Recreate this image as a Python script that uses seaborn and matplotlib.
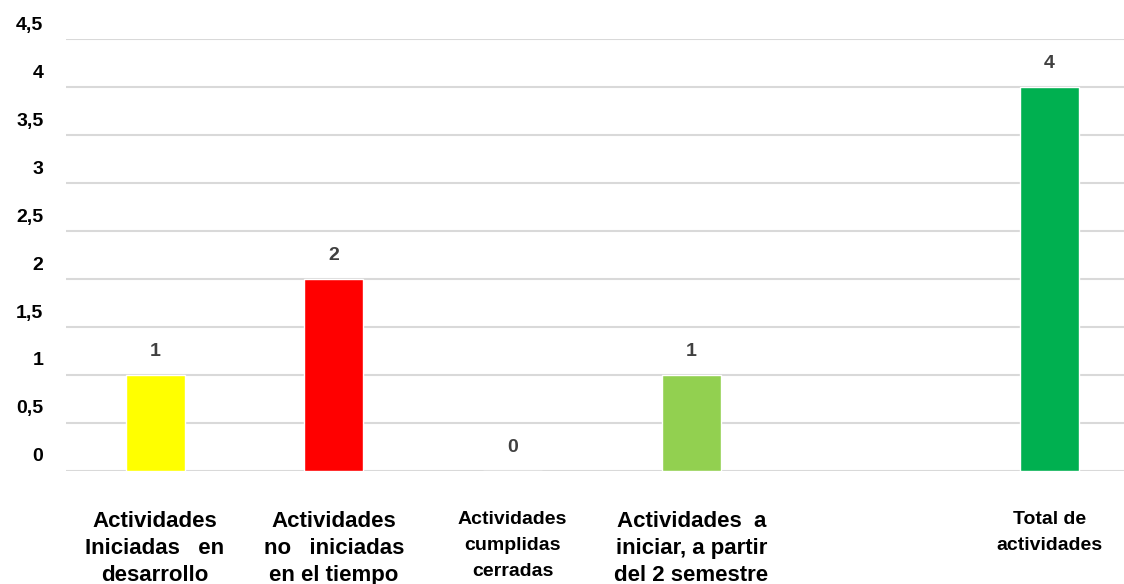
import matplotlib
matplotlib.use("Agg")
import matplotlib.pyplot as plt
import matplotlib.transforms as mtransforms
import seaborn as sns
import pandas as pd
from matplotlib import font_manager

# -----------------------------
# Data
# -----------------------------
categories = [
    "Actividades\nIniciadas   en\ndesarrollo",
    "Actividades\nno   iniciadas\nen el tiempo",
    "Actividades\ncumplidas\ncerradas",
    "Actividades  a\niniciar, a partir\ndel 2 semestre",
    "",
    "Total de\nactividades",
]
values = [1, 2, 0, 1, None, 4]
bar_colors = ["#FFFF00", "#FF0000", "#FFFFFF", "#92D050", "#FFFFFF", "#00B050"]
label_sizes = [16, 16, 14, 16, 16, 14]
y_ticks = [0, 0.5, 1, 1.5, 2, 2.5, 3, 3.5, 4, 4.5]
y_tick_labels = ["0", "0,5", "1", "1,5", "2", "2,5", "3", "3,5", "4", "4,5"]

df = pd.DataFrame({"cat": categories, "val": values})

# -----------------------------
# Theme / fonts
# -----------------------------
sns.set_theme(style="white")
names = {f.name for f in font_manager.fontManager.ttflist}
narrow = "Liberation Sans Narrow" if "Liberation Sans Narrow" in names else "Liberation Sans"
plt.rcParams["font.family"] = [narrow, "DejaVu Sans"]

fig = plt.figure(figsize=(11.24, 5.84), dpi=100)
ax = fig.add_axes([0.0584, 0.1935, 0.9545, 0.7397])

sns.barplot(
    data=df,
    x="cat",
    y="val",
    order=categories,
    hue="cat",
    hue_order=categories,
    palette=bar_colors,
    saturation=1,
    width=0.33,
    legend=False,
    ax=ax,
    zorder=3,
)

# value labels
for i, v in enumerate(values):
    if v is None:
        continue
    ax.annotate(
        f"{v:g}",
        xy=(i, v),
        xytext=(0, 17),
        textcoords="offset points",
        ha="center",
        va="center",
        fontsize=14,
        fontweight="bold",
        color="#404040",
    )

# axes styling
ax.set_ylim(0, 4.5)
ax.set_xlim(-0.5, len(categories) - 0.5)
ax.set_yticks(y_ticks)
ax.set_yticklabels(y_tick_labels, fontsize=14, fontweight="bold", color="black")
ax.yaxis.grid(True, color="#D9D9D9", linewidth=1.5, zorder=0)
ax.set_axisbelow(True)
for s in ax.spines.values():
    s.set_visible(False)
ax.set_xlabel("")
ax.set_ylabel("")
ax.tick_params(axis="y", length=0, pad=16)
ax.tick_params(axis="x", length=0, pad=29)

# y tick labels sit above their gridlines
shift = mtransforms.ScaledTranslation(0, 16 / 100, fig.dpi_scale_trans)
for lab in ax.get_yticklabels():
    lab.set_transform(lab.get_transform() + shift)

# about 27 px between label lines whatever the size
for lab, fs in zip(ax.get_xticklabels(), label_sizes):
    k = 0.89 if fs >= 16 else 0.82
    lab.set_fontsize(fs)
    lab.set_fontweight("bold")
    lab.set_color("black")
    lab.set_linespacing(27 / (fs * 100 / 72 * k))
    lab.set_verticalalignment("top")

fig.savefig("out.png", dpi=100)
